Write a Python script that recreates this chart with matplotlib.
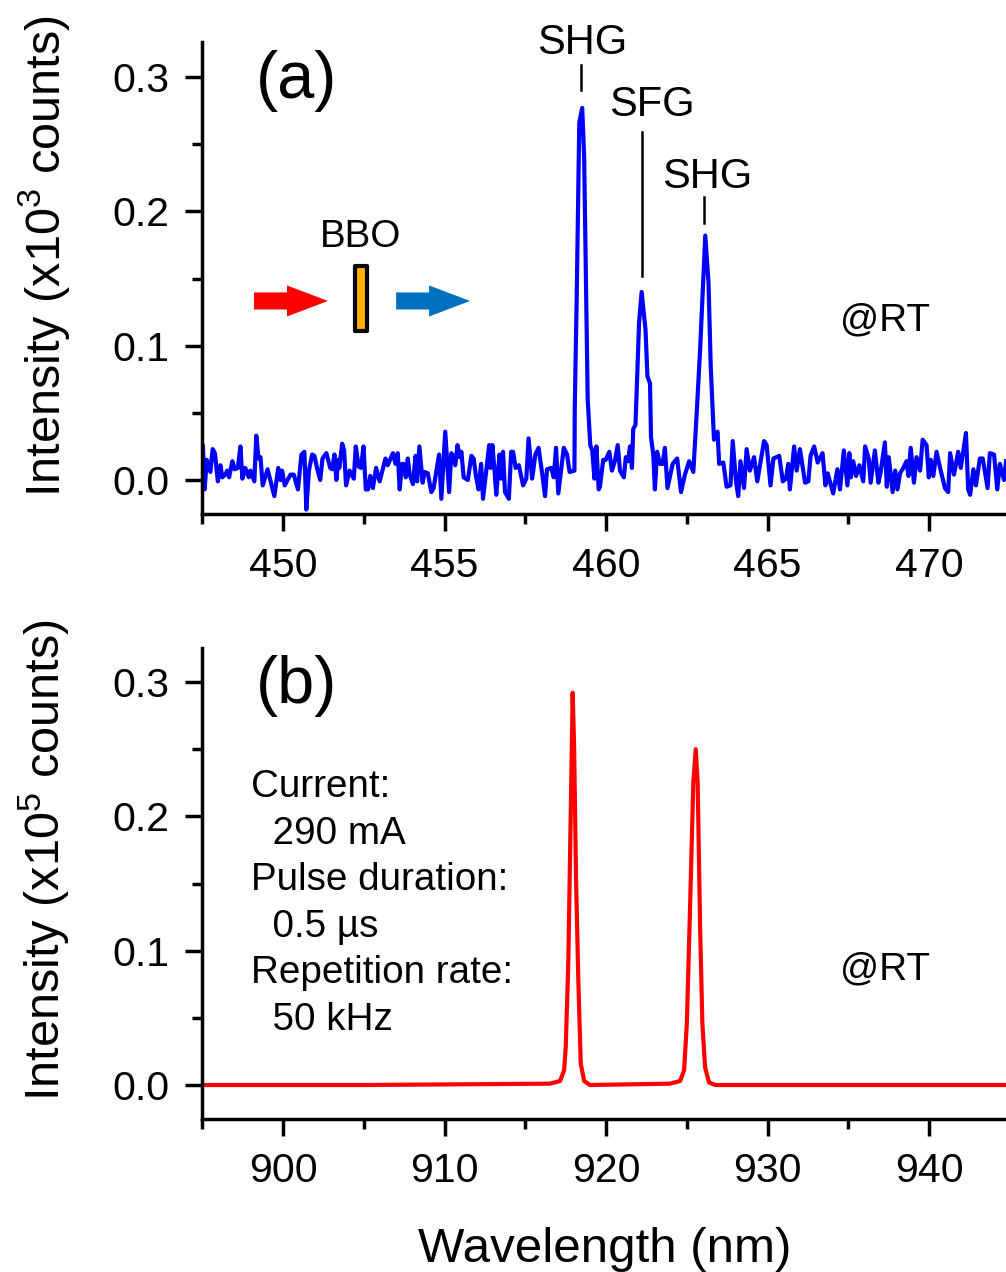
#!/usr/bin/env python

import matplotlib
matplotlib.use('Agg')
import matplotlib.pyplot as plt
from matplotlib.patches import FancyArrow, Rectangle

plt.rcParams['font.family'] = ['Liberation Sans', 'DejaVu Sans']
plt.rcParams['mathtext.fontset'] = 'custom'
plt.rcParams['mathtext.rm'] = 'Liberation Sans'
plt.rcParams['mathtext.default'] = 'regular'

W, H = 1006, 1272

# panel (a): SHG / SFG spectrum
wl_a = [
    447.52, 447.57, 447.64, 447.75, 447.82, 447.89, 447.98, 448.06, 448.12, 448.21,
    448.27, 448.33, 448.43, 448.50, 448.60, 448.68, 448.74, 448.83, 448.94, 448.99,
    449.11, 449.17, 449.24, 449.30, 449.37, 449.52, 449.73, 449.85, 449.92, 449.97,
    450.05, 450.23, 450.33, 450.46, 450.57, 450.66, 450.72, 450.80, 450.90, 450.97,
    451.05, 451.15, 451.22, 451.34, 451.46, 451.52, 451.59, 451.65, 451.71, 451.74,
    451.83, 451.89, 451.95, 452.06, 452.19, 452.25, 452.34, 452.41, 452.49, 452.56,
    452.63, 452.70, 452.78, 452.88, 452.99, 453.17, 453.24, 453.40, 453.48, 453.55,
    453.61, 453.68, 453.73, 453.80, 453.86, 453.92, 454.02, 454.10, 454.15, 454.22,
    454.32, 454.38, 454.48, 454.59, 454.66, 454.74, 454.83, 454.90, 455.02, 455.14,
    455.21, 455.28, 455.33, 455.40, 455.47, 455.52, 455.59, 455.72, 455.83, 455.90,
    455.97, 456.05, 456.13, 456.19, 456.38, 456.42, 456.48, 456.54, 456.60, 456.70,
    456.75, 456.81, 456.87, 456.99, 457.06, 457.12, 457.20, 457.30, 457.43, 457.53,
    457.60, 457.71, 457.81, 457.91, 458.02, 458.11, 458.17, 458.30, 458.38, 458.45,
    458.52, 458.69, 458.79, 458.87, 459.02,
    459.03, 459.09, 459.17, 459.26, 459.32, 459.38, 459.43, 459.51,
    459.57, 459.64, 459.70, 459.77,
    459.81, 459.91, 459.99, 460.10, 460.18, 460.27, 460.36, 460.43, 460.55, 460.61,
    460.68, 460.74, 460.80, 460.84, 460.91,
    461.02, 461.10, 461.22, 461.28, 461.36, 461.39,
    461.46, 461.51, 461.58, 461.67, 461.75, 461.82, 461.90, 462.06, 462.20, 462.32,
    462.44, 462.57, 462.70,
    462.81, 462.91, 463.07, 463.17, 463.24, 463.34,
    463.45, 463.50, 463.63, 463.73, 463.85, 463.92, 464.02, 464.09, 464.16, 464.27,
    464.35, 464.45, 464.58, 464.68, 464.89, 464.97, 465.09, 465.18, 465.36, 465.47,
    465.57, 465.64, 465.69, 465.82, 465.90, 466.00, 466.16, 466.26, 466.33, 466.44,
    466.55, 466.70, 466.79, 466.86, 467.03, 467.16, 467.24, 467.36, 467.47, 467.53,
    467.58, 467.65, 467.74, 467.84, 467.96, 468.02, 468.13, 468.19, 468.32, 468.43,
    468.50, 468.63, 468.69, 468.75, 468.87, 468.95, 469.02, 469.10, 469.20, 469.30,
    469.36, 469.43, 469.53, 469.61, 469.72, 469.80, 469.92, 469.99, 470.05, 470.13,
    470.23, 470.34, 470.49, 470.59, 470.65, 470.77, 470.90, 470.98, 471.14, 471.21,
    471.27, 471.37, 471.45, 471.57, 471.66, 471.81, 471.88, 472.01, 472.11, 472.19,
    472.32, 472.38,
]
int_a = [
    0.025, -0.007, 0.015, 0.006, 0.023, 0.020, -0.001, 0.011, 0.002, 0.004,
    0.007, 0.002, 0.014, 0.008, 0.009, 0.025, 0.001, 0.009, 0.002, 0.007,
    -0.001, 0.033, 0.016, 0.017, -0.004, 0.008, -0.012, 0.009, 0.000, 0.007,
    -0.004, 0.004, 0.004, -0.007, 0.019, 0.021, -0.022, 0.007, 0.019, 0.018,
    0.009, 0.000, 0.016, 0.020, 0.009, 0.008, 0.019, 0.000, 0.015, 0.009,
    0.027, 0.022, -0.004, 0.007, 0.001, 0.025, 0.010, 0.009, 0.025, -0.007,
    -0.007, 0.003, -0.006, 0.009, -0.001, 0.016, 0.011, 0.020, 0.012, 0.020,
    -0.007, 0.012, 0.012, 0.002, 0.016, 0.004, -0.003, 0.018, -0.001, 0.025,
    -0.002, 0.006, 0.005, -0.009, -0.006, 0.006, 0.019, -0.014, 0.036, -0.009,
    0.020, 0.017, 0.011, 0.026, 0.017, 0.021, 0.002, 0.000, 0.018, 0.016,
    0.003, -0.007, 0.012, -0.014, 0.026, 0.009, 0.026, 0.009, -0.011, 0.019,
    0.001, 0.021, -0.009, -0.014, 0.021, 0.021, 0.009, 0.011, -0.004, 0.001,
    0.031, 0.001, 0.019, 0.024, 0.005, -0.012, 0.008, 0.009, 0.002, 0.024,
    -0.010, 0.024, 0.019, 0.006, 0.007,
    0.054, 0.136, 0.266, 0.277, 0.241, 0.141, 0.060, 0.026,
    0.022, 0.001, 0.025, -0.007,
    -0.005, 0.015, 0.015, 0.021, 0.007, 0.014, 0.026, 0.007, 0.002, 0.017,
    0.014, 0.025, 0.009, 0.038, 0.041,
    0.117, 0.140, 0.112, 0.077, 0.072, 0.032,
    0.019, -0.007, 0.021, 0.012, 0.012, 0.024, -0.006, 0.012, 0.016, -0.009,
    0.004, 0.014, 0.006,
    0.052, 0.097, 0.182, 0.147, 0.084, 0.030,
    0.036, 0.012, 0.013, -0.005, -0.004, 0.029, -0.001, -0.012, 0.014, -0.006,
    0.023, 0.007, 0.017, -0.001, 0.029, 0.026, -0.004, 0.016, 0.018, -0.001,
    0.001, 0.012, -0.007, 0.025, 0.007, 0.023, -0.002, -0.001, 0.018, 0.025,
    0.013, 0.020, -0.004, 0.005, -0.010, 0.008, -0.007, 0.022, -0.004, 0.020,
    0.002, 0.014, 0.003, 0.011, -0.001, 0.025, 0.016, -0.002, 0.022, -0.002,
    0.006, 0.028, -0.005, 0.017, -0.009, 0.007, -0.007, 0.005, 0.009, 0.014,
    0.003, 0.024, -0.002, 0.017, 0.007, 0.030, 0.026, 0.002, 0.015, 0.003,
    0.021, 0.009, -0.006, -0.009, 0.020, 0.004, 0.021, 0.009, 0.035, -0.007,
    -0.011, 0.008, -0.004, 0.016, 0.016, -0.006, 0.020, 0.019, -0.007, 0.012,
    0.000, 0.014,
]

# panel (b): fundamental spectrum
wl_b = [
    895.0, 905.0, 916.53, 917.15, 917.40, 917.50, 917.66, 917.81, 917.93, 918.02,
    918.14, 918.28, 918.43, 918.64, 919.0, 923.96, 924.58, 924.83, 925.0, 925.20,
    925.40, 925.55, 925.67, 925.82, 925.96, 926.13, 926.37, 926.75, 927.67, 945.0,
]
int_b = [
    0.000, 0.000, 0.001, 0.003, 0.011, 0.028, 0.091, 0.202, 0.292, 0.252,
    0.153, 0.078, 0.016, 0.003, 0.000, 0.001, 0.003, 0.011, 0.046, 0.133,
    0.225, 0.250, 0.225, 0.118, 0.046, 0.013, 0.002, 0.000, 0.000, 0.000,
]

info_lines = ['Current:', '  290 mA', 'Pulse duration:', '  0.5 µs', 'Repetition rate:', '  50 kHz']

fig = plt.figure(figsize=(W / 100, H / 100), dpi=100)


def axes_px(left, top, right, bottom):
    return fig.add_axes([left / W, 1 - bottom / H, (right - left) / W, (bottom - top) / H])


def text_px(x, y, s, **kw):
    kw.setdefault('fontsize', 27.8)
    kw.setdefault('va', 'baseline')
    return fig.text(x / W, 1 - y / H, s, **kw)


def style_axis(ax, xmaj, xmin, ymaj=0.1, ymin=0.05):
    ax.spines['top'].set_visible(False)
    ax.spines['right'].set_visible(False)
    ax.spines['left'].set_linewidth(2.5)
    ax.spines['bottom'].set_linewidth(2.5)
    ax.xaxis.set_major_locator(plt.MultipleLocator(xmaj))
    ax.xaxis.set_minor_locator(plt.MultipleLocator(xmin))
    ax.yaxis.set_major_locator(plt.MultipleLocator(ymaj))
    ax.yaxis.set_minor_locator(plt.MultipleLocator(ymin))
    ax.tick_params(which='major', length=12, width=2.5, labelsize=29.5, pad=11.5)
    ax.tick_params(which='minor', length=7.5, width=2.5)
    ax.yaxis.set_major_formatter(plt.FormatStrFormatter('%.1f'))


ax1 = axes_px(202, 42, 1006, 514)
ax1.plot(wl_a, int_a, color='#0000ff', lw=3, solid_joinstyle='round')
ax1.set_xlim(447.49, 472.38)
ax1.set_ylim(-0.0253, 0.3261)
style_axis(ax1, 5, 2.5)

# leader lines over the peaks
ax1.plot([459.23, 459.23], [0.290, 0.309], color='k', lw=1.8)
ax1.plot([461.12, 461.12], [0.152, 0.259], color='k', lw=1.8)
ax1.plot([463.03, 463.03], [0.191, 0.211], color='k', lw=1.8)

# BBO sketch
ax1.add_patch(FancyArrow(449.10, 0.1333, 2.29, 0, width=0.0127, head_width=0.0231,
                         head_length=1.27, length_includes_head=True, color='#ff0000', lw=0))
ax1.add_patch(FancyArrow(453.50, 0.1333, 2.29, 0, width=0.0127, head_width=0.0231,
                         head_length=1.27, length_includes_head=True, color='#0070c0', lw=0))
ax1.add_patch(Rectangle((452.24, 0.1106), 0.37, 0.0484, facecolor='#ffb000', edgecolor='k',
                        lw=3, joinstyle='round'))

ax2 = axes_px(202, 648, 1006, 1119)
ax2.plot(wl_b, int_b, color='#ff0000', lw=3)
ax2.set_xlim(894.98, 944.76)
ax2.set_ylim(-0.0253, 0.3253)
style_axis(ax2, 10, 5)

text_px(44, 256, 'Intensity (x10$^{3}$ counts)', fontsize=35, rotation=90, ha='center', va='center')
text_px(44, 860, 'Intensity (x10$^{5}$ counts)', fontsize=35, rotation=90, ha='center', va='center')
text_px(605, 1262, 'Wavelength (nm)', fontsize=35.5, ha='center')

text_px(256, 98, '(a)', fontsize=48)
text_px(256, 703, '(b)', fontsize=48)
text_px(582, 54, 'SHG', fontsize=30, ha='center')
text_px(652, 116, 'SFG', fontsize=30, ha='center')
text_px(707, 188, 'SHG', fontsize=30, ha='center')
text_px(361, 247, 'BBO', fontsize=27.8, ha='center')
text_px(840, 330, '@RT')
text_px(840, 979, '@RT')

ys = [797, 844, 890, 937, 983, 1030]
for y, line in zip(ys, info_lines):
    text_px(251, y, line)

fig.savefig('out.png', dpi=100)
